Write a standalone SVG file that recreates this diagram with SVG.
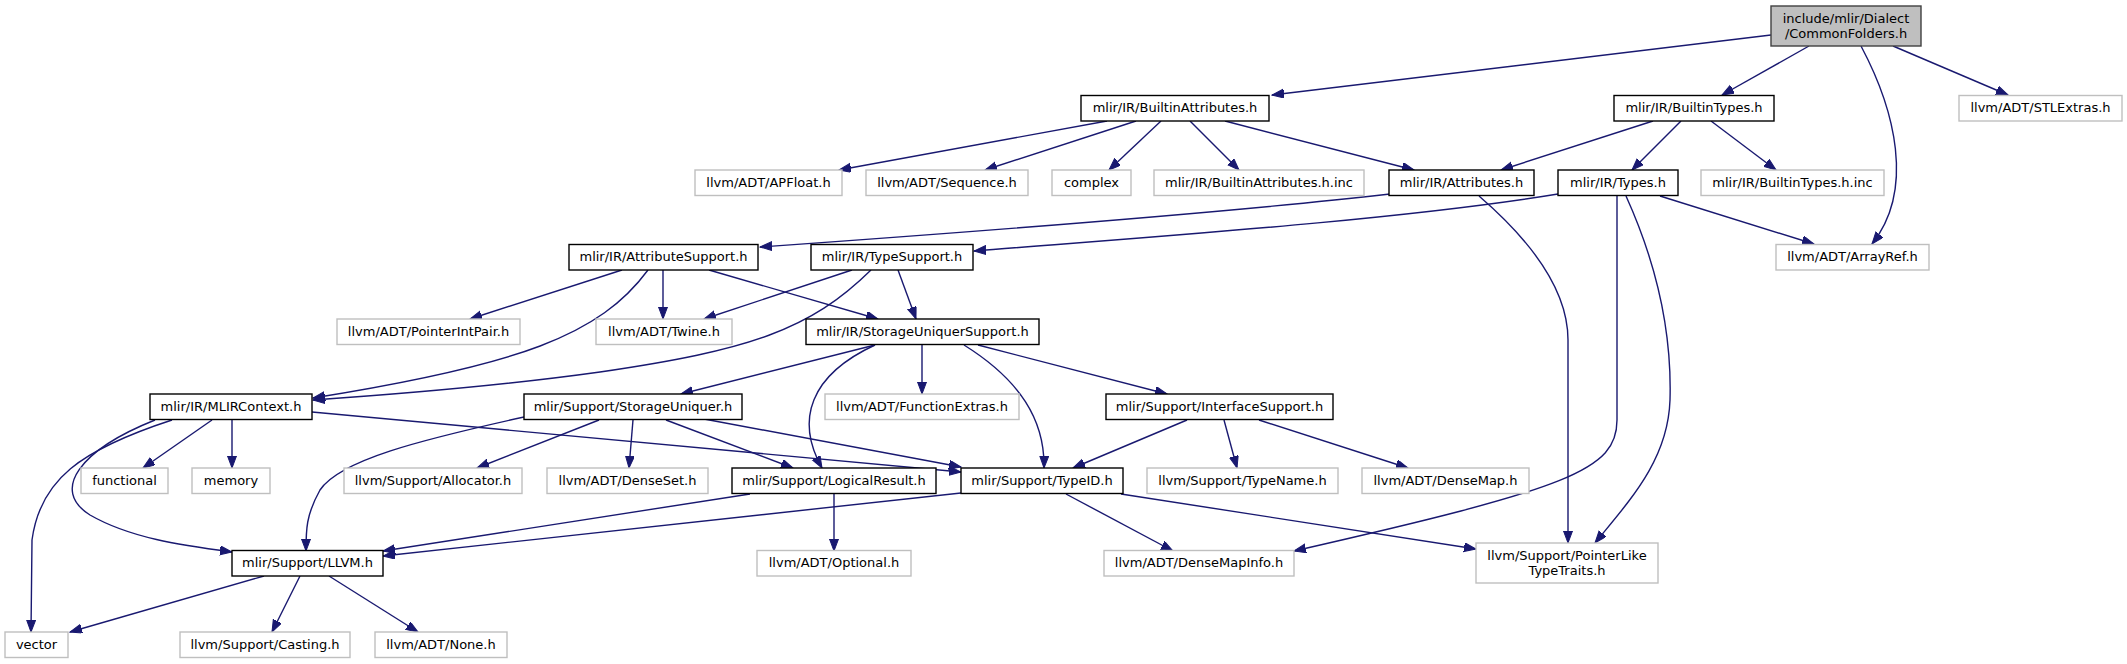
<svg xmlns="http://www.w3.org/2000/svg" width="2127" height="664" viewBox="0 0 2127 664">
<style>
text{font-family:"DejaVu Sans","Liberation Sans",sans-serif;font-size:13px;fill:#000;text-anchor:middle}
.n rect{fill:#fff;stroke:#000;stroke-width:1.4}
.g rect{fill:#fff;stroke:#bfbfbf;stroke-width:1.4}
.r rect{fill:#bfbfbf;stroke:#404040;stroke-width:1.4}
#edges path{fill:none;stroke:#191970;stroke-width:1.4;marker-end:url(#ah)}
</style>
<defs>
<marker id="ah" markerUnits="userSpaceOnUse" markerWidth="13" markerHeight="10" refX="12" refY="4.5" orient="auto"><path d="M0,0 L12,4.5 L0,9 z" fill="#191970" stroke="#191970" stroke-width="1"/></marker>
</defs>
<rect width="2127" height="664" fill="#fff"/>
<g id="edges">
<path d="M1771,35 L1272,95"/>
<path d="M1809,46 L1722,95"/>
<path d="M1861,46 C1895,110 1915,190 1872,244"/>
<path d="M1893,46 L2008,95"/>
<path d="M1107,121 L839,170"/>
<path d="M1136,121 L985,170"/>
<path d="M1161,121 L1109,170"/>
<path d="M1190,121 L1239,170"/>
<path d="M1225,121 L1414,170"/>
<path d="M1653,121 L1501,170"/>
<path d="M1681,121 L1632,170"/>
<path d="M1711,121 L1776,170"/>
<path d="M1390,194 C1250,210 1000,230 760,247"/>
<path d="M1558,194 C1400,220 1150,237 974,251"/>
<path d="M1660,196 L1814,244"/>
<path d="M1617,196 L1617,420 C1617,470 1570,488 1294,551"/>
<path d="M1479,196 C1530,240 1568,290 1568,340 L1568,543"/>
<path d="M1626,196 C1655,260 1672,330 1670,400 C1668,460 1630,500 1595,543"/>
<path d="M663,270 L663,319"/>
<path d="M709,270 L878,319"/>
<path d="M622,270 L470,319"/>
<path d="M648,270 C600,335 520,365 313,398"/>
<path d="M852,270 L704,319"/>
<path d="M871,270 C810,330 750,350 600,372 C500,386 400,394 313,400"/>
<path d="M898,270 L916,319"/>
<path d="M875,345 L681,394"/>
<path d="M875,345 C810,375 795,420 822,468"/>
<path d="M922,345 L922,394"/>
<path d="M964,345 C1020,380 1045,420 1044,468"/>
<path d="M978,345 L1167,394"/>
<path d="M1187,420 L1073,468"/>
<path d="M1224,420 L1237,468"/>
<path d="M1259,420 L1408,468"/>
<path d="M704,419 L961,467"/>
<path d="M312,412 L961,472"/>
<path d="M212,420 L143,468"/>
<path d="M232,420 L232,468"/>
<path d="M172,420 C80,450 40,480 32,540 L31,632"/>
<path d="M155,420 C80,450 50,490 90,515 C130,538 180,545 232,552"/>
<path d="M524,417 C420,440 340,460 320,490 C306,515 306,530 306,551"/>
<path d="M599,420 L477,468"/>
<path d="M633,420 L629,468"/>
<path d="M666,420 L793,468"/>
<path d="M750,494 L383,551"/>
<path d="M961,493 L383,556"/>
<path d="M834,494 L834,551"/>
<path d="M1066,494 L1173,551"/>
<path d="M1121,494 L1476,549"/>
<path d="M264,576 L70,632"/>
<path d="M300,576 L272,632"/>
<path d="M329,576 L418,632"/>
</g>
<g id="n_cf" class="r"><rect x="1771" y="6" width="150" height="40"/><text x="1846" y="22.5">include/mlir/Dialect</text><text x="1846" y="37.5">/CommonFolders.h</text></g>
<g id="n_ba" class="n"><rect x="1081" y="95.5" width="188" height="25.5"/><text x="1175" y="112">mlir/IR/BuiltinAttributes.h</text></g>
<g id="n_bt" class="n"><rect x="1614" y="95.5" width="160" height="25.5"/><text x="1694" y="112">mlir/IR/BuiltinTypes.h</text></g>
<g id="n_stl" class="g"><rect x="1959" y="95.5" width="163" height="25.5"/><text x="2040.5" y="112">llvm/ADT/STLExtras.h</text></g>
<g id="n_apf" class="g"><rect x="695" y="170" width="147" height="25.5"/><text x="768.5" y="186.5">llvm/ADT/APFloat.h</text></g>
<g id="n_seq" class="g"><rect x="866" y="170" width="162" height="25.5"/><text x="947" y="186.5">llvm/ADT/Sequence.h</text></g>
<g id="n_cpx" class="g"><rect x="1052" y="170" width="79" height="25.5"/><text x="1091.5" y="186.5">complex</text></g>
<g id="n_bai" class="g"><rect x="1154" y="170" width="210" height="25.5"/><text x="1259" y="186.5">mlir/IR/BuiltinAttributes.h.inc</text></g>
<g id="n_att" class="n"><rect x="1389" y="170" width="145" height="25.5"/><text x="1461.5" y="186.5">mlir/IR/Attributes.h</text></g>
<g id="n_typ" class="n"><rect x="1558" y="170" width="120" height="25.5"/><text x="1618" y="186.5">mlir/IR/Types.h</text></g>
<g id="n_bti" class="g"><rect x="1701" y="170" width="183" height="25.5"/><text x="1792.5" y="186.5">mlir/IR/BuiltinTypes.h.inc</text></g>
<g id="n_as" class="n"><rect x="569" y="244.5" width="189" height="25.5"/><text x="663.5" y="261">mlir/IR/AttributeSupport.h</text></g>
<g id="n_ts" class="n"><rect x="811" y="244.5" width="162" height="25.5"/><text x="892" y="261">mlir/IR/TypeSupport.h</text></g>
<g id="n_ar" class="g"><rect x="1776" y="244.5" width="153" height="25.5"/><text x="1852.5" y="261">llvm/ADT/ArrayRef.h</text></g>
<g id="n_pip" class="g"><rect x="337" y="319" width="183" height="25.5"/><text x="428.5" y="335.5">llvm/ADT/PointerIntPair.h</text></g>
<g id="n_tw" class="g"><rect x="596" y="319" width="136" height="25.5"/><text x="664" y="335.5">llvm/ADT/Twine.h</text></g>
<g id="n_sus" class="n"><rect x="806" y="319" width="233" height="25.5"/><text x="922.5" y="335.5">mlir/IR/StorageUniquerSupport.h</text></g>
<g id="n_mc" class="n"><rect x="150" y="394" width="162" height="25.5"/><text x="231" y="410.5">mlir/IR/MLIRContext.h</text></g>
<g id="n_su" class="n"><rect x="524" y="394" width="218" height="25.5"/><text x="633" y="410.5">mlir/Support/StorageUniquer.h</text></g>
<g id="n_fe" class="g"><rect x="825" y="394" width="194" height="25.5"/><text x="922" y="410.5">llvm/ADT/FunctionExtras.h</text></g>
<g id="n_is" class="n"><rect x="1106" y="394" width="227" height="25.5"/><text x="1219.5" y="410.5">mlir/Support/InterfaceSupport.h</text></g>
<g id="n_fun" class="g"><rect x="81" y="468" width="87" height="25.5"/><text x="124.5" y="484.5">functional</text></g>
<g id="n_mem" class="g"><rect x="192" y="468" width="78" height="25.5"/><text x="231" y="484.5">memory</text></g>
<g id="n_all" class="g"><rect x="344" y="468" width="178" height="25.5"/><text x="433" y="484.5">llvm/Support/Allocator.h</text></g>
<g id="n_ds" class="g"><rect x="547" y="468" width="161" height="25.5"/><text x="627.5" y="484.5">llvm/ADT/DenseSet.h</text></g>
<g id="n_lr" class="n"><rect x="732" y="468" width="204" height="25.5"/><text x="834" y="484.5">mlir/Support/LogicalResult.h</text></g>
<g id="n_tid" class="n"><rect x="961" y="468" width="162" height="25.5"/><text x="1042" y="484.5">mlir/Support/TypeID.h</text></g>
<g id="n_tn" class="g"><rect x="1147" y="468" width="191" height="25.5"/><text x="1242.5" y="484.5">llvm/Support/TypeName.h</text></g>
<g id="n_dm" class="g"><rect x="1362" y="468" width="167" height="25.5"/><text x="1445.5" y="484.5">llvm/ADT/DenseMap.h</text></g>
<g id="n_llvm" class="n"><rect x="232" y="550.5" width="151" height="25.5"/><text x="307.5" y="567">mlir/Support/LLVM.h</text></g>
<g id="n_opt" class="g"><rect x="757" y="550.5" width="154" height="25.5"/><text x="834" y="567">llvm/ADT/Optional.h</text></g>
<g id="n_dmi" class="g"><rect x="1104" y="550.5" width="190" height="25.5"/><text x="1199" y="567">llvm/ADT/DenseMapInfo.h</text></g>
<g id="n_plt" class="g"><rect x="1476" y="543" width="182" height="40"/><text x="1567" y="559.5">llvm/Support/PointerLike</text><text x="1567" y="574.5">TypeTraits.h</text></g>
<g id="n_vec" class="g"><rect x="5" y="632" width="63" height="25.5"/><text x="36.5" y="648.5">vector</text></g>
<g id="n_cast" class="g"><rect x="180" y="632" width="170" height="25.5"/><text x="265" y="648.5">llvm/Support/Casting.h</text></g>
<g id="n_none" class="g"><rect x="375" y="632" width="132" height="25.5"/><text x="441" y="648.5">llvm/ADT/None.h</text></g>
</svg>
